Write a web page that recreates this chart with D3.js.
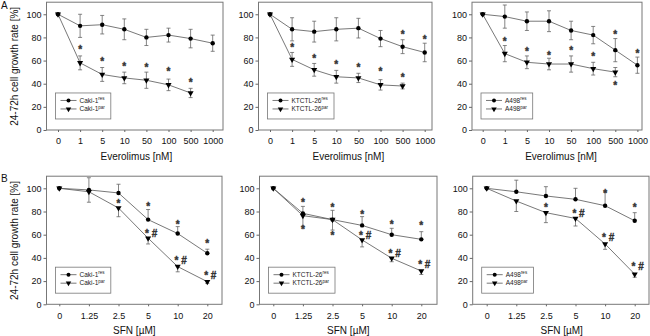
<!DOCTYPE html>
<html>
<head>
  <script src="https://d3js.org/d3.v7.min.js"></script>
  <style>
    html, body {
      margin: 0px;
      padding: 0px;
      background: #fff;
      font-family: "Liberation Sans", Arial, Helvetica, sans-serif;
    }
    .tick text { font-size: 9px; fill: #111; }
    .tick line { stroke: #666; }
    .axisLabel { font-size: 10px; fill: #111; }
    .legendText { font-size: 6.5px; fill: #222; }
    .star { font-size: 10px; font-weight: bold; fill: #333; stroke: #333; stroke-width: 0.35px; }
  </style>
</head>
<body>
  <div id="chart"></div>
  <script>

      /*
      DATA
      */
      const everolimusDoses = ["0", "1", "5", "10", "50", "100", "500", "1000"];
      const sfnDoses = ["0", "1.25", "2.5", "5", "10", "20"];
      const yTicks = [0, 20, 40, 60, 80, 100];

      // Everolimus, Caki-1
      const cakiEveRes = [100, 90, 91, 87, 80, 82, 79, 75];
      const cakiEveResErr = [0, 10, 8, 9, 7, 6, 8, 7];
      const cakiEvePar = [100, 58, 48, 45, 43, 39, 32];
      const cakiEveParErr = [0, 6, 6, 5, 7, 5, 4];
      const cakiEveStars = [["1", 71, "*"], ["5", 61, "*"], ["10", 57, "*"], ["50", 56, "*"], ["100", 52, "*"], ["500", 43, "*"]];

      // Everolimus, KTCTL-26
      const ktctlEveRes = [100, 87, 85, 87, 88, 79, 72, 67];
      const ktctlEveResErr = [0, 10, 9, 10, 8.5, 7, 6, 8];
      const ktctlEvePar = [100, 61, 52, 46, 45, 39, 38];
      const ktctlEveParErr = [0, 6, 5.5, 5.5, 4, 4.5, 2.5];
      const ktctlEveStars = [["500", 84, "*"], ["1000", 80, "*"], ["1", 73, "*"], ["5", 64, "*"], ["10", 58.5, "*"], ["50", 55.6, "*"], ["100", 52, "*"], ["500", 47.5, "*"]];

      // Everolimus, A498
      const a498EveRes = [100, 98, 94, 94, 86, 82, 69, 56];
      const a498EveResErr = [0, 10, 8, 9, 8, 7.5, 10, 7];
      const a498EvePar = [100, 66, 58.5, 57, 57, 53, 50];
      const a498EveParErr = [0, 7, 5.5, 5, 7, 5.5, 4];
      const a498EveStars = [["500", 84, "*"], ["1000", 68, "*"], ["1", 78, "*"], ["5", 70, "*"], ["10", 66, "*"], ["50", 70.6, "*"], ["100", 65.4, "*"], ["500", 40, "*"]];

      // SFN, Caki-1 (res error up, par error down)
      const cakiSfnRes = [100, 98.6, 96, 73, 61, 44];
      const cakiSfnResErr = [0, 10.5, 7.5, 8.7, 6, 3.5];
      const cakiSfnPar = [100, 97, 83, 57, 32.5, 19.5];
      const cakiSfnParErr = [0, 9, 7.5, 5, 4.5, 1.5];
      const cakiSfnStars = [["2.5", 88.5, "*"], ["5", 86, "*"], ["5", 63, "*#"], ["10", 71, "*"], ["10", 39.7, "*#"], ["20", 54.6, "*"], ["20", 26.7, "*#"]];

      // SFN, KTCTL-26
      const ktctlSfnRes = [100, 78.4, 73, 68, 60, 56];
      const ktctlSfnResErr = [0, 6, 8, 7.6, 5.5, 6.6];
      const ktctlSfnPar = [100, 76.4, 73, 55.5, 39.7, 28.7];
      const ktctlSfnParErr = [0, 9, 9, 6, 3, 3];
      const ktctlSfnStars = [["1.25", 90, "*"], ["1.25", 66, "*"], ["2.5", 85, "*"], ["2.5", 61, "*"], ["5", 79, "*"], ["5", 61, "*#"], ["10", 70.7, "*"], ["10", 46, "*#"], ["20", 69.8, "*"], ["20", 36, "*#"]];

      // SFN, A498
      const a498SfnRes = [100, 97, 93.4, 90.5, 85, 72];
      const a498SfnResErr = [0, 10, 8, 9.5, 12, 7];
      const a498SfnPar = [100, 89, 79, 74, 52, 26];
      const a498SfnParErr = [0, 9, 8.6, 6.5, 4.6, 2.7];
      const a498SfnStars = [["2.5", 85.6, "*"], ["5", 80, "*#"], ["10", 97, "*"], ["10", 59.8, "*#"], ["20", 85, "*"], ["20", 34.5, "*#"]];

      /*
      PANELS (layout kept here, values come from arrays above)
      */
      const top1 = {yTop: 2.7, yBottom: 130, step: 22.1, doses: everolimusDoses, title: "Everolimus [nM]", sym: true};
      const row2 = {yTop: 176.7, yBottom: 304.3, step: 29.6, doses: sfnDoses, title: "SFN [\u00b5M]", sym: false};

      const panels = [
        {row: top1, left: 46.5, right: 223, first: 58, cell: "Caki-1", res: cakiEveRes, resErr: cakiEveResErr, par: cakiEvePar, parErr: cakiEveParErr, stars: cakiEveStars},
        {row: top1, left: 258.5, right: 432, first: 270, cell: "KTCTL-26", res: ktctlEveRes, resErr: ktctlEveResErr, par: ktctlEvePar, parErr: ktctlEveParErr, stars: ktctlEveStars},
        {row: top1, left: 472, right: 642, first: 482.7, cell: "A498", res: a498EveRes, resErr: a498EveResErr, par: a498EvePar, parErr: a498EveParErr, stars: a498EveStars},
        {row: row2, left: 46.5, right: 222, first: 59.3, cell: "Caki-1", res: cakiSfnRes, resErr: cakiSfnResErr, par: cakiSfnPar, parErr: cakiSfnParErr, stars: cakiSfnStars},
        {row: row2, left: 259.5, right: 437, first: 273.3, cell: "KTCTL-26", res: ktctlSfnRes, resErr: ktctlSfnResErr, par: ktctlSfnPar, parErr: ktctlSfnParErr, stars: ktctlSfnStars},
        {row: row2, left: 472.7, right: 649, first: 486.7, cell: "A498", res: a498SfnRes, resErr: a498SfnResErr, par: a498SfnPar, parErr: a498SfnParErr, stars: a498SfnStars}
      ];

      const width = 650;
      const height = 336;

      const svg = d3.select("#chart")
        .append("svg")
        .attr("width", width)
        .attr("height", height);

      const lineColor = "#555";
      const errColor = "#666";

      panels.forEach(function(p, i) {
        const r = p.row;
        const n = r.doses.length;

        const xScale = d3.scalePoint()
          .domain(r.doses)
          .range([p.first, p.first + r.step * (n - 1)]);

        const yScale = d3.scaleLinear()
          .domain([0, 110])
          .range([r.yBottom, r.yTop]);

        const g = svg.append("g");

        // frame
        g.append("rect")
          .attr("x", p.left)
          .attr("y", yScale(110) - 0.5)
          .attr("width", p.right - p.left)
          .attr("height", yScale(0) - yScale(110) + 0.5)
          .attr("fill", "none")
          .attr("stroke", "#777")
          .attr("stroke-width", 1);

        // axes
        g.append("g")
          .attr("transform", `translate(${p.left},0)`)
          .call(d3.axisLeft(yScale).tickValues(yTicks).tickSize(3).tickPadding(2))
          .call(a => a.select(".domain").remove());

        g.append("g")
          .attr("transform", `translate(0,${yScale(0)})`)
          .call(d3.axisBottom(xScale).tickSize(2).tickPadding(6))
          .call(a => a.select(".domain").remove());

        // axis title
        g.append("text")
          .attr("class", "axisLabel")
          .attr("x", (xScale(r.doses[0]) + xScale(r.doses[n - 1])) / 2 + 1)
          .attr("y", yScale(0) + 30)
          .attr("text-anchor", "middle")
          .text(r.title);

        const seriesList = [
          {vals: p.res, err: p.resErr, dir: r.sym ? 0 : 1, marker: "circle", sup: "res"},
          {vals: p.par, err: p.parErr, dir: r.sym ? 0 : -1, marker: "tri", sup: "par"}
        ];

        const line = d3.line()
          .x((d, j) => xScale(r.doses[j]))
          .y(d => yScale(d));

        seriesList.forEach(function(s) {
          g.append("path")
            .datum(s.vals)
            .attr("d", line)
            .attr("fill", "none")
            .attr("stroke", lineColor)
            .attr("stroke-width", 0.8);

          // error bars
          const eb = g.selectAll(null)
            .data(s.vals.map((v, j) => ({x: xScale(r.doses[j]), v: v, e: s.err[j]})).filter(d => d.e > 0))
            .enter()
            .append("g")
            .attr("stroke", errColor)
            .attr("stroke-width", 0.8);

          eb.append("line")
            .attr("x1", d => d.x).attr("x2", d => d.x)
            .attr("y1", d => yScale(s.dir < 0 ? d.v : d.v + d.e))
            .attr("y2", d => yScale(s.dir > 0 ? d.v : d.v - d.e));
          if (s.dir >= 0) {
            eb.append("line")
              .attr("x1", d => d.x - 2).attr("x2", d => d.x + 2)
              .attr("y1", d => yScale(d.v + d.e)).attr("y2", d => yScale(d.v + d.e));
          }
          if (s.dir <= 0) {
            eb.append("line")
              .attr("x1", d => d.x - 2).attr("x2", d => d.x + 2)
              .attr("y1", d => yScale(d.v - d.e)).attr("y2", d => yScale(d.v - d.e));
          }

          // markers
          const pts = s.vals.map((v, j) => ({x: xScale(r.doses[j]), y: yScale(v)}));
          if (s.marker === "circle") {
            g.selectAll(null).data(pts).enter().append("circle")
              .attr("cx", d => d.x).attr("cy", d => d.y).attr("r", 2.2).attr("fill", "#000");
          } else {
            g.selectAll(null).data(pts).enter().append("path")
              .attr("d", d3.symbol(d3.symbolTriangle, 16))
              .attr("transform", d => `translate(${d.x},${d.y}) rotate(180)`)
              .attr("fill", "#000");
          }
        });

        // significance marks
        g.append("g")
          .selectAll("text")
          .data(p.stars)
          .enter()
          .append("text")
          .attr("class", "star")
          .attr("x", d => xScale(d[0]) + (d[2].length > 1 ? 3 : 0))
          .attr("y", d => yScale(d[1]) + 5.6)
          .attr("text-anchor", "middle")
          .text(d => d[2].length > 1 ? "* #" : "*");

        // legend
        const lx = p.left + 9;
        const ly = yScale(32);
        const lg = g.append("g");
        const box = lg.append("rect")
          .attr("x", lx).attr("y", ly)
          .attr("height", 26)
          .attr("fill", "#fff")
          .attr("stroke", "#777")
          .attr("stroke-width", 0.8);
        let maxW = 0;
        seriesList.forEach(function(s, k) {
          const yy = ly + 7.5 + k * 8.5;
          lg.append("line")
            .attr("x1", lx + 5).attr("x2", lx + 21)
            .attr("y1", yy).attr("y2", yy)
            .attr("stroke", lineColor).attr("stroke-width", 0.8);
          if (s.marker === "circle") {
            lg.append("circle").attr("cx", lx + 13).attr("cy", yy).attr("r", 2).attr("fill", "#000");
          } else {
            lg.append("path")
              .attr("d", d3.symbol(d3.symbolTriangle, 13))
              .attr("transform", `translate(${lx + 13},${yy}) rotate(180)`)
              .attr("fill", "#000");
          }
          const t = lg.append("text")
            .attr("class", "legendText")
            .attr("x", lx + 24)
            .attr("y", yy + 2.3)
            .text(p.cell);
          t.append("tspan")
            .attr("dy", -2.5)
            .attr("font-size", "4.5px")
            .text(s.sup);
          maxW = Math.max(maxW, t.node().getComputedTextLength());
        });
        box.attr("width", 24 + maxW + 6);

        // y axis label on first column
        if (i % 3 === 0) {
          g.append("text")
            .attr("class", "axisLabel")
            .attr("transform", `translate(18,${(yScale(0) + yScale(110)) / 2}) rotate(-90)`)
            .attr("text-anchor", "middle")
            .text("24-72h cell growth rate [%]");
        }
      });

      // panel letters
      svg.append("text").attr("class", "axisLabel").attr("x", 1).attr("y", 9).text("A");
      svg.append("text").attr("class", "axisLabel").attr("x", 1).attr("y", 182).text("B");

  </script>
</body>
</html>
